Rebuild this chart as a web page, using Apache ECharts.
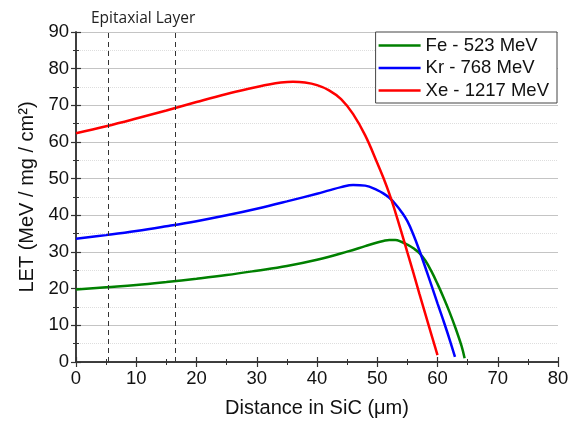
<!DOCTYPE html>
<html>
<head>
<meta charset="utf-8">
<script src="https://cdn.jsdelivr.net/npm/echarts@6/dist/echarts.min.js"></script>
<style>html,body{margin:0;padding:0;background:#fff;}#c{width:573px;height:423px;}</style>
</head>
<body>
<div id="c"></div>
<script>
// ---- data ----
var feX = [0, 5, 10, 15, 20, 25, 30, 35, 40, 45, 48, 50, 51, 52, 53, 54, 55, 56, 57, 58, 59, 60, 61, 62, 63, 64, 64.5];
var feY = [19.8, 20.4, 21.0, 21.8, 22.7, 23.7, 24.9, 26.2, 27.9, 30.1, 31.6, 32.6, 33.0, 33.3, 33.3, 32.8, 32.0, 31.0, 29.7, 27.6, 24.7, 21.3, 17.6, 13.6, 9.2, 4.3, 1.0];
var krX = [0, 5, 10, 15, 20, 25, 30, 35, 40, 42, 44, 46, 48, 50, 51, 52, 53, 54, 55, 56, 57, 58, 59, 60, 61, 62, 62.9];
var krY = [33.6, 34.6, 35.7, 37.0, 38.4, 40.0, 41.8, 43.8, 45.9, 46.8, 47.7, 48.3, 48.1, 46.9, 46.0, 44.8, 43.1, 41.0, 38.4, 34.7, 30.4, 25.7, 20.9, 16.0, 11.2, 6.2, 1.4];
var xeX = [0, 5, 10, 15, 20, 25, 30, 32, 34, 36, 38, 40, 42, 44, 46, 48, 50, 51, 52, 53, 54, 55, 56, 57, 58, 59, 60];
var xeY = [62.4, 64.3, 66.4, 68.6, 70.9, 73.1, 75.0, 75.7, 76.2, 76.4, 76.2, 75.5, 74.1, 71.7, 67.6, 61.8, 54.3, 50.3, 45.9, 40.9, 35.5, 29.9, 24.3, 18.6, 13.0, 7.4, 1.9];
var seriesNames = ['Fe - 523 MeV', 'Kr - 768 MeV', 'Xe - 1217 MeV'];
var epiBounds = [5.4, 16.4];
var epiLabel = 'Epitaxial Layer';
var xTitle = 'Distance in SiC (\u03bcm)';
var yTitle = 'LET (MeV / mg / cm\u00b2)';

function pairs(xs, ys) { return xs.map(function (x, i) { return [x, ys[i]]; }); }

var chart = echarts.init(document.getElementById('c'), null, { renderer: 'canvas' });
var FONT = '"Liberation Sans", Arial, sans-serif';
var axisLine = { show: true, lineStyle: { color: '#333', width: 1.5 } };
var tick = { show: true, inside: true, length: 5, lineStyle: { color: '#333', width: 1.2 } };
var mtick = { show: true, inside: true, length: 3, splitNumber: 2, lineStyle: { color: '#333', width: 1 } };

var option = {
  backgroundColor: '#fff',
  animation: false,
  title: {
    text: epiLabel, left: 86, top: 6,
    textStyle: { fontFamily: '"Open Sans", sans-serif', fontSize: 15.5, fontWeight: 'normal', color: '#222' }
  },
  grid: { left: 76, right: 15, top: 32, bottom: 60, containLabel: false },
  legend: {
    orient: 'vertical', right: 16, top: 32,
    data: seriesNames,
    icon: 'rect', itemWidth: 42, itemHeight: 2.5, itemGap: 3.5,
    borderColor: '#444', borderWidth: 1, backgroundColor: '#fff', borderRadius: 0,
    padding: [4, 8, 3, 3],
    textStyle: { fontFamily: FONT, fontSize: 18.5, color: '#111' }
  },
  xAxis: [{
    type: 'value', min: 0, max: 80, interval: 10, position: 'bottom',
    name: xTitle, nameLocation: 'middle', nameGap: 36,
    nameTextStyle: { fontFamily: FONT, fontSize: 20, color: '#111' },
    axisLine: axisLine, axisTick: tick, minorTick: mtick,
    axisLabel: { fontFamily: FONT, fontSize: 18.5, color: '#111', margin: 7 },
    splitLine: { show: false }
  }, {
    type: 'value', min: 0, max: 80, interval: 10, position: 'top',
    axisLine: axisLine, axisTick: tick, minorTick: mtick,
    axisLabel: { show: false }, splitLine: { show: false }
  }],
  yAxis: [{
    type: 'value', min: 0, max: 90, interval: 10, position: 'left',
    name: yTitle, nameLocation: 'middle', nameGap: 38, nameRotate: 90,
    nameTextStyle: { fontFamily: FONT, fontSize: 20, color: '#111' },
    axisLine: axisLine, axisTick: tick, minorTick: mtick,
    axisLabel: { fontFamily: FONT, fontSize: 18.5, color: '#111', margin: 7 },
    splitLine: { show: true, lineStyle: { color: '#c4c4c4', width: 1 } },
    minorSplitLine: { show: true, lineStyle: { color: '#dedede', width: 1, type: 'dotted' } }
  }, {
    type: 'value', min: 0, max: 90, interval: 10, position: 'right',
    axisLine: axisLine, axisTick: tick, minorTick: mtick,
    axisLabel: { show: false }, splitLine: { show: false }
  }],
  series: [{
    name: seriesNames[0], type: 'line', data: pairs(feX, feY), smooth: 0.4,
    symbol: 'none', color: '#008000', lineStyle: { width: 2.5, color: '#008000' }, z: 3,
    markLine: {
      silent: true, symbol: 'none', label: { show: false },
      lineStyle: { color: '#333', type: [5, 4], width: 1 },
      data: epiBounds.map(function (v) { return { xAxis: v }; })
    }
  }, {
    name: seriesNames[1], type: 'line', data: pairs(krX, krY), smooth: 0.4,
    symbol: 'none', color: '#0000ff', lineStyle: { width: 2.5, color: '#0000ff' }, z: 3
  }, {
    name: seriesNames[2], type: 'line', data: pairs(xeX, xeY), smooth: 0.4,
    symbol: 'none', color: '#ff0000', lineStyle: { width: 2.5, color: '#ff0000' }, z: 3
  }]
};
chart.setOption(option);
</script>
</body>
</html>
